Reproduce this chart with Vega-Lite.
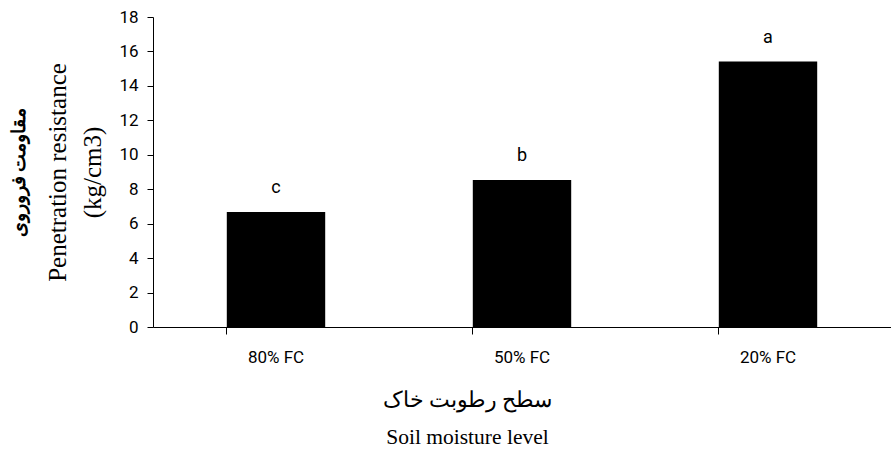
{
  "$schema": "https://vega.github.io/schema/vega-lite/v6.json",
  "width": 738,
  "height": 310,
  "autosize": "none",
  "padding": {"left": 153, "top": 17, "right": 0, "bottom": 128},
  "background": "white",
  "config": {"view": {"stroke": null}},
  "data": {"values": [
    {"level": "80% FC", "value": 6.68, "sig": "c"},
    {"level": "50% FC", "value": 8.54, "sig": "b"},
    {"level": "20% FC", "value": 15.41, "sig": "a"}
  ]},
  "encoding": {
    "x": {
      "field": "level", "type": "nominal", "sort": null,
      "scale": {"paddingInner": 0.6, "paddingOuter": 0.3},
      "axis": {
        "title": ["سطح رطوبت خاک", "Soil moisture level"],
        "titleFont": "Liberation Serif", "titleFontSize": 21.5, "titleFontWeight": "normal",
        "titleColor": "black", "titleLineHeight": 37,
        "titleX": 314, "titleY": 62, "titleAlign": "center", "titleBaseline": "top", "titleAnchor": null,
        "labelAngle": 0, "labelFont": "Roboto", "labelFontSize": 17, "labelColor": "black",
        "labelPadding": 15, "bandPosition": 0,
        "tickSize": 7, "tickColor": "black", "domainColor": "black", "tickWidth": 1, "domainWidth": 1
      }
    }
  },
  "layer": [
    {
      "mark": {"type": "bar", "color": "black"},
      "encoding": {
        "y": {
          "field": "value", "type": "quantitative",
          "scale": {"domain": [0, 18], "nice": false},
          "axis": {
            "orient": "left",
            "values": [0, 2, 4, 6, 8, 10, 12, 14, 16, 18],
            "grid": false,
            "title": ["Penetration resistance", "(kg/cm3)"],
            "titleFont": "Liberation Serif", "titleFontSize": 25, "titleFontWeight": "normal",
            "titleColor": "black", "titleLineHeight": 35, "titlePadding": 13,
            "labelFont": "Roboto", "labelFontSize": 17, "labelColor": "black",
            "labelPadding": 9, "tickSize": 6, "tickColor": "black", "domainColor": "black"
          }
        }
      }
    },
    {
      "mark": {"type": "text", "baseline": "middle", "dy": -24, "font": "Roboto", "fontSize": 18, "color": "black"},
      "encoding": {
        "text": {"field": "sig"},
        "y": {
          "field": "value", "type": "quantitative",
          "axis": {
            "orient": "left",
            "title": "مقاومت فروروی",
            "titleFont": "Liberation Serif", "titleFontSize": 19, "titleFontWeight": "bold",
            "titleColor": "black", "titlePadding": 0, "offset": 125,
            "labels": false, "ticks": false, "domain": false, "grid": false
          }
        }
      }
    }
  ],
  "resolve": {"axis": {"y": "independent"}}
}
